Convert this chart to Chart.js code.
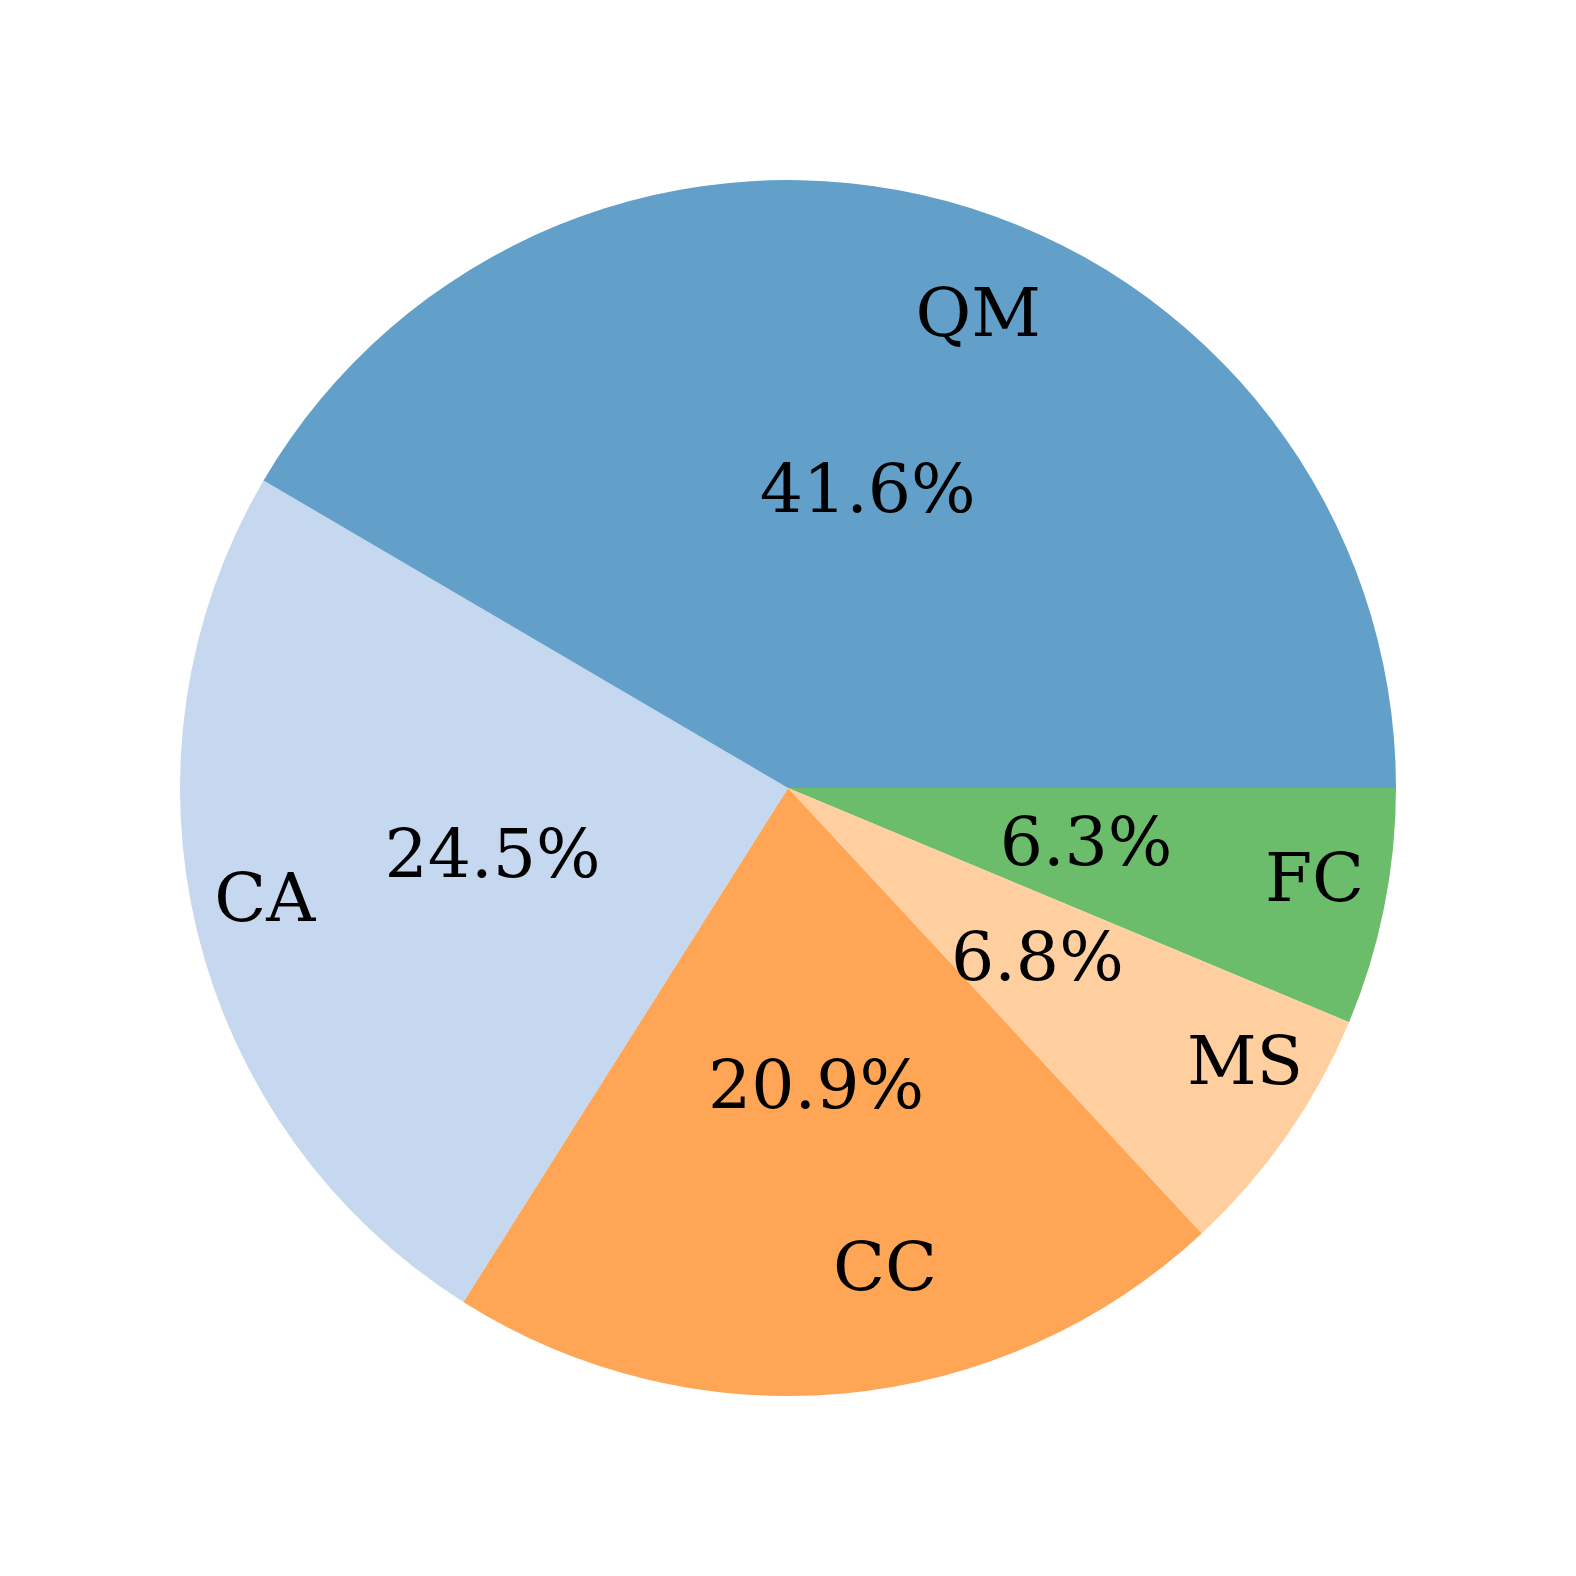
<!DOCTYPE html>
<html>
<head>
<meta charset="utf-8">
<script src="https://cdn.jsdelivr.net/npm/chart.js@4"></script>
<style>
  html, body { margin: 0; padding: 0; background: #fff; }
  #wrap { width: 1576px; height: 1576px; }
</style>
</head>
<body>
<div id="wrap"><canvas id="pie" width="1576" height="1576"></canvas></div>
<script>
// matplotlib draws counter-clockwise from 3 o'clock, chart.js clockwise,
// so the arrays are kept in drawing order (reversed)
const categories = ['FC', 'MS', 'CC', 'CA', 'QM'];
const shares = [6.3, 6.8, 20.9, 24.5, 41.6];
const colors = ['#6bbc6b', '#ffcfa0', '#ffa556', '#c6d8ef', '#62a0ca'];

const labelFont = '68px "DejaVu Serif"';

// names at 0.8 r, percentages at 0.5 r, like the reference
const pieLabels = {
  id: 'pieLabels',
  afterDatasetsDraw(chart) {
    const ctx = chart.ctx;
    const arcs = chart.getDatasetMeta(0).data;
    const total = shares.reduce((a, b) => a + b, 0);
    ctx.save();
    ctx.font = labelFont;
    ctx.fillStyle = '#000';
    ctx.textBaseline = 'middle';
    arcs.forEach((arc, i) => {
      const p = arc.getProps(['x', 'y', 'startAngle', 'endAngle', 'outerRadius'], true);
      const mid = (p.startAngle + p.endAngle) / 2;
      const c = Math.cos(mid), s = Math.sin(mid);
      ctx.textAlign = c > 0 ? 'left' : 'right';
      ctx.fillText(categories[i], p.x + c * p.outerRadius * 0.8, p.y + s * p.outerRadius * 0.8);
      ctx.textAlign = 'center';
      const pct = (shares[i] / total * 100).toFixed(1) + '%';
      ctx.fillText(pct, p.x + c * p.outerRadius * 0.5, p.y + s * p.outerRadius * 0.5);
    });
    ctx.restore();
  }
};

new Chart(document.getElementById('pie').getContext('2d'), {
  type: 'pie',
  data: {
    labels: categories,
    datasets: [{
      data: shares,
      backgroundColor: colors,
      borderWidth: 0
    }]
  },
  options: {
    responsive: false,
    animation: false,
    rotation: 90,
    layout: { padding: 180 },
    plugins: {
      legend: { display: false },
      tooltip: { enabled: false }
    }
  },
  plugins: [pieLabels]
});
</script>
</body>
</html>
